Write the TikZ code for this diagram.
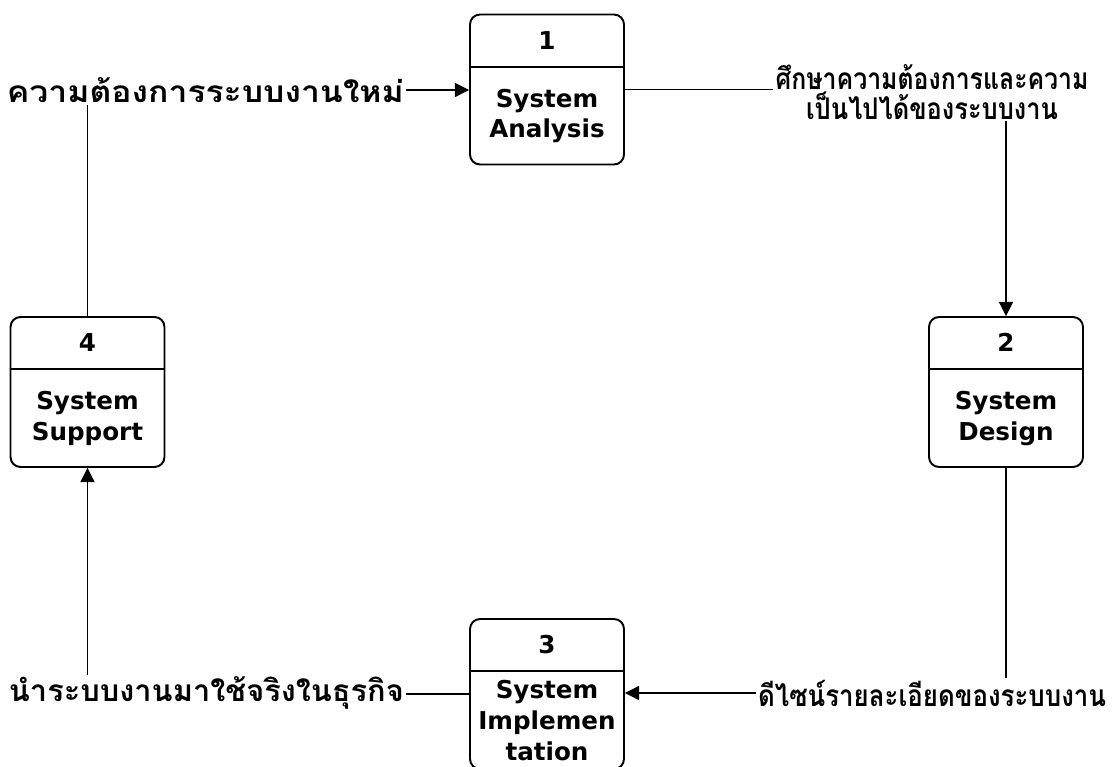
\documentclass[tikz,border=0pt]{standalone}
\usepackage{fontspec}
\setmainfont{DejaVu Sans}
\newfontfamily\thaifont[Script=Thai]{Loma}
\usetikzlibrary{calc}
\usetikzlibrary{arrows.meta}
\tikzset{procbox/.style={draw,line width=1.1pt,rounded corners=0.2cm,
    minimum width=3.08cm,minimum height=3cm,inner sep=0pt}}
\tikzset{headline/.style={line width=1.1pt}}
\tikzset{proctext/.style={font=\bfseries\fontsize{14}{17.6}\selectfont,align=center,inner sep=0pt}}
\tikzset{flowlabel/.style={font=\thaifont\bfseries\fontsize{17}{15.5}\selectfont,align=center,inner sep=1pt}}
\tikzset{flow/.style={line width=0.6pt}}
\tikzset{flowarrow/.style={flow,-{Triangle[length=8pt,width=8pt]}}}
% squeeze a label to the width it has in the drawing
\newcommand{\fitw}[2]{\resizebox{#1}{\height}{#2}}
% name, position, number, title
\newcommand{\procbox}[4]{
  \node[procbox] (#1) at (#2) {};
  \draw[headline] ([yshift=-1.06cm]#1.north west) -- ([yshift=-1.06cm]#1.north east);
  \node[proctext] (#1-num) at ([yshift=-0.53cm]#1.north) {#3};
  \node[proctext] (#1-txt) at ($(#1.south)!0.5!([yshift=-1.06cm]#1.north)$) {#4};
}

\begin{document}
\begin{tikzpicture}[x=0.02cm,y=-0.02cm]
  \useasboundingbox (0,0) rectangle (1112,767);
  \procbox{analysis}{547,89.5}{1}{System\\Analysis}
  \procbox{design}{1006,392}{2}{System\\Design}
  \procbox{implement}{547,694}{3}{System\\Implemen\\tation}
  \procbox{support}{87.5,392}{4}{System\\Support}

  \node[flowlabel,anchor=east] (need) at (406,90) {\fitw{7.94cm}{ความต้องการระบบงานใหม่}};
  \node[flowlabel] (study) at (932,92)
    {\fitw{6.26cm}{ศึกษาความต้องการและความ}\\\fitw{5.04cm}{เป็นไปได้ของระบบงาน}};
  \node[flowlabel,anchor=west] (detail) at (756,693) {\fitw{6.96cm}{ดีไซน์รายละเอียดของระบบงาน}};
  \node[flowlabel,anchor=east] (use) at (406,693) {\fitw{7.9cm}{นำระบบงานมาใช้จริงในธุรกิจ}};

  \draw[flow] (support.north) -- (support.north |- need.south);
  \draw[flowarrow] (need.east) -- (need.east -| analysis.west);
  \draw[flow] (analysis.east) -- (analysis.east -| study.west);
  \draw[flowarrow] (design.north |- study.south) -- (design.north);
  \draw[flow] (design.south) -- (design.south |- detail.north);
  \draw[flowarrow] (detail.west) -- (detail.west -| implement.east);
  \draw[flow] (implement.west) -- (implement.west -| use.east);
  \draw[flowarrow] (support.south |- use.north) -- (support.south);
\end{tikzpicture}
\end{document}
